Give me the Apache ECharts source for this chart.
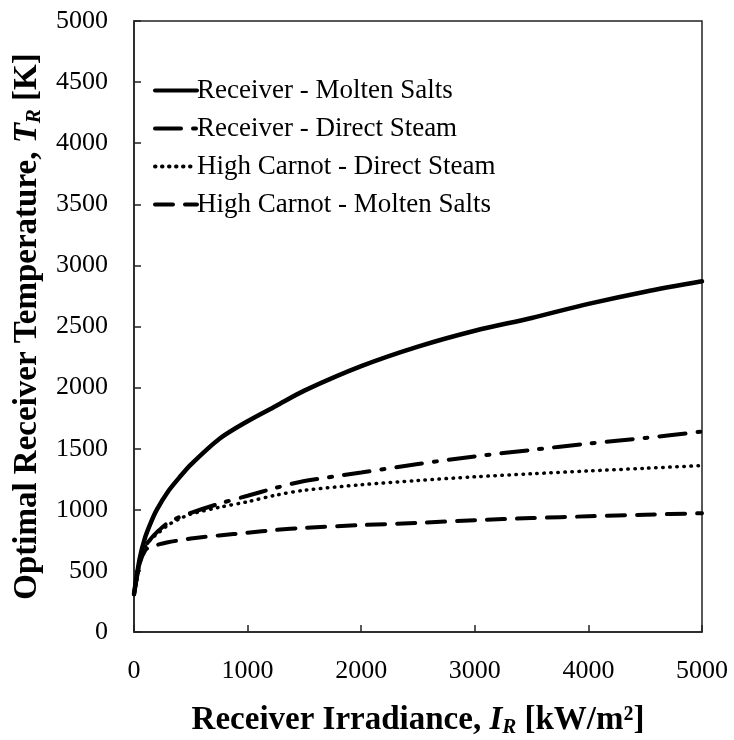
<!DOCTYPE html>
<html>
<head>
<meta charset="utf-8">
<script src="https://cdn.jsdelivr.net/npm/echarts@6/dist/echarts.min.js"></script>
<style>
  html, body { margin: 0; padding: 0; background: #fff; }
  #chart { width: 734px; height: 740px; }
</style>
</head>
<body>
<div id="chart"></div>
<script>
// Receiver irradiance I_R [kW/m²]
const irradiance = [0, 50, 100, 150, 200, 300, 400, 500, 750, 1000, 1250, 1500, 2000, 2500, 3000, 3500, 4000, 4500, 5000];

// Optimal receiver temperature T_R [K] for each case
const receiverMoltenSalts = [310, 600, 780, 900, 1000, 1150, 1265, 1370, 1580, 1725, 1850, 1975, 2175, 2335, 2465, 2570, 2685, 2785, 2870];
const receiverDirectSteam = [310, 560, 700, 765, 815, 895, 940, 975, 1050, 1115, 1180, 1235, 1305, 1375, 1437, 1490, 1542, 1588, 1640];
const highCarnotDirectSteam = [310, 560, 700, 760, 800, 875, 925, 965, 1020, 1066, 1120, 1160, 1205, 1240, 1270, 1295, 1318, 1340, 1362];
const highCarnotMoltenSalts = [310, 560, 670, 700, 712, 735, 750, 765, 790, 812, 835, 852, 875, 893, 915, 932, 947, 960, 972];

const seriesNames = [
  'Receiver - Molten Salts',
  'Receiver - Direct Steam',
  'High Carnot - Direct Steam',
  'High Carnot - Molten Salts'
];

const xTicks = { min: 0, max: 5000, interval: 1000 };
const yTicks = { min: 0, max: 5000, interval: 500 };

const serif = 'Liberation Serif';

function pairs(ys) {
  return irradiance.map((x, i) => [x, ys[i]]);
}

const chart = echarts.init(document.getElementById('chart'));

const lineStyles = [
  { width: 4.5, type: 'solid' },
  { width: 4, type: [26, 12, 3, 12] },
  { width: 3.5, type: [0.5, 6.5] },
  { width: 4, type: [18, 12] }
];

const datasets = [receiverMoltenSalts, receiverDirectSteam, highCarnotDirectSteam, highCarnotMoltenSalts];

const titleRich = {
  b: { fontFamily: serif, fontSize: 33, fontWeight: 'bold', color: '#000' },
  i: { fontFamily: serif, fontSize: 33, fontWeight: 'bold', fontStyle: 'italic', color: '#000' },
  s: { fontFamily: serif, fontSize: 21, fontWeight: 'bold', fontStyle: 'italic', color: '#000', verticalAlign: 'bottom', padding: [14, 0, 0, 0] }
};

chart.setOption({
  animation: false,
  backgroundColor: '#fff',
  grid: {
    left: 134, right: 32, top: 21, bottom: 108,
    outerBoundsMode: 'none',
    containLabel: false,
    show: true, borderColor: '#222', borderWidth: 1.5, backgroundColor: 'transparent'
  },
  legend: {
    left: 148, top: 72,
    orient: 'vertical',
    itemWidth: 42, itemHeight: 14, itemGap: 11,
    itemStyle: { opacity: 0, borderWidth: 0 },
    lineStyle: { width: 4 },
    textStyle: { fontFamily: serif, fontSize: 27, color: '#000', padding: [0, 0, 0, -5] },
    data: seriesNames
  },
  xAxis: {
    type: 'value',
    min: xTicks.min, max: xTicks.max, interval: xTicks.interval,
    axisLine: { lineStyle: { color: '#222', width: 1.5 } },
    axisTick: { inside: true, length: 7, lineStyle: { color: '#222', width: 1.5 } },
    splitLine: { show: false },
    axisLabel: { fontFamily: serif, fontSize: 26, color: '#000', margin: 26, formatter: v => String(v) },
    name: '{b|Receiver Irradiance, }{i|I}{s|R}{b| [kW/m²]}',
    nameLocation: 'middle',
    nameGap: 71,
    nameTextStyle: { rich: titleRich }
  },
  yAxis: {
    type: 'value',
    min: yTicks.min, max: yTicks.max, interval: yTicks.interval,
    axisLine: { show: true, lineStyle: { color: '#222', width: 1.5 } },
    axisTick: { show: true, inside: true, length: 7, lineStyle: { color: '#222', width: 1.5 } },
    splitLine: { show: false },
    axisLabel: { fontFamily: serif, fontSize: 26, color: '#000', margin: 26, formatter: v => String(v) },
    name: '{b|Optimal Receiver Temperature, }{i|T}{s|R}{b| [K]}',
    nameLocation: 'middle',
    nameGap: 86,
    nameTextStyle: { rich: titleRich }
  },
  series: datasets.map((ys, k) => ({
    name: seriesNames[k],
    type: 'line',
    data: pairs(ys),
    smooth: 0.3,
    showSymbol: false,
    symbol: 'none',
    color: '#000',
    lineStyle: Object.assign({ color: '#000', cap: 'round' }, lineStyles[k])
  }))
});
</script>
</body>
</html>
